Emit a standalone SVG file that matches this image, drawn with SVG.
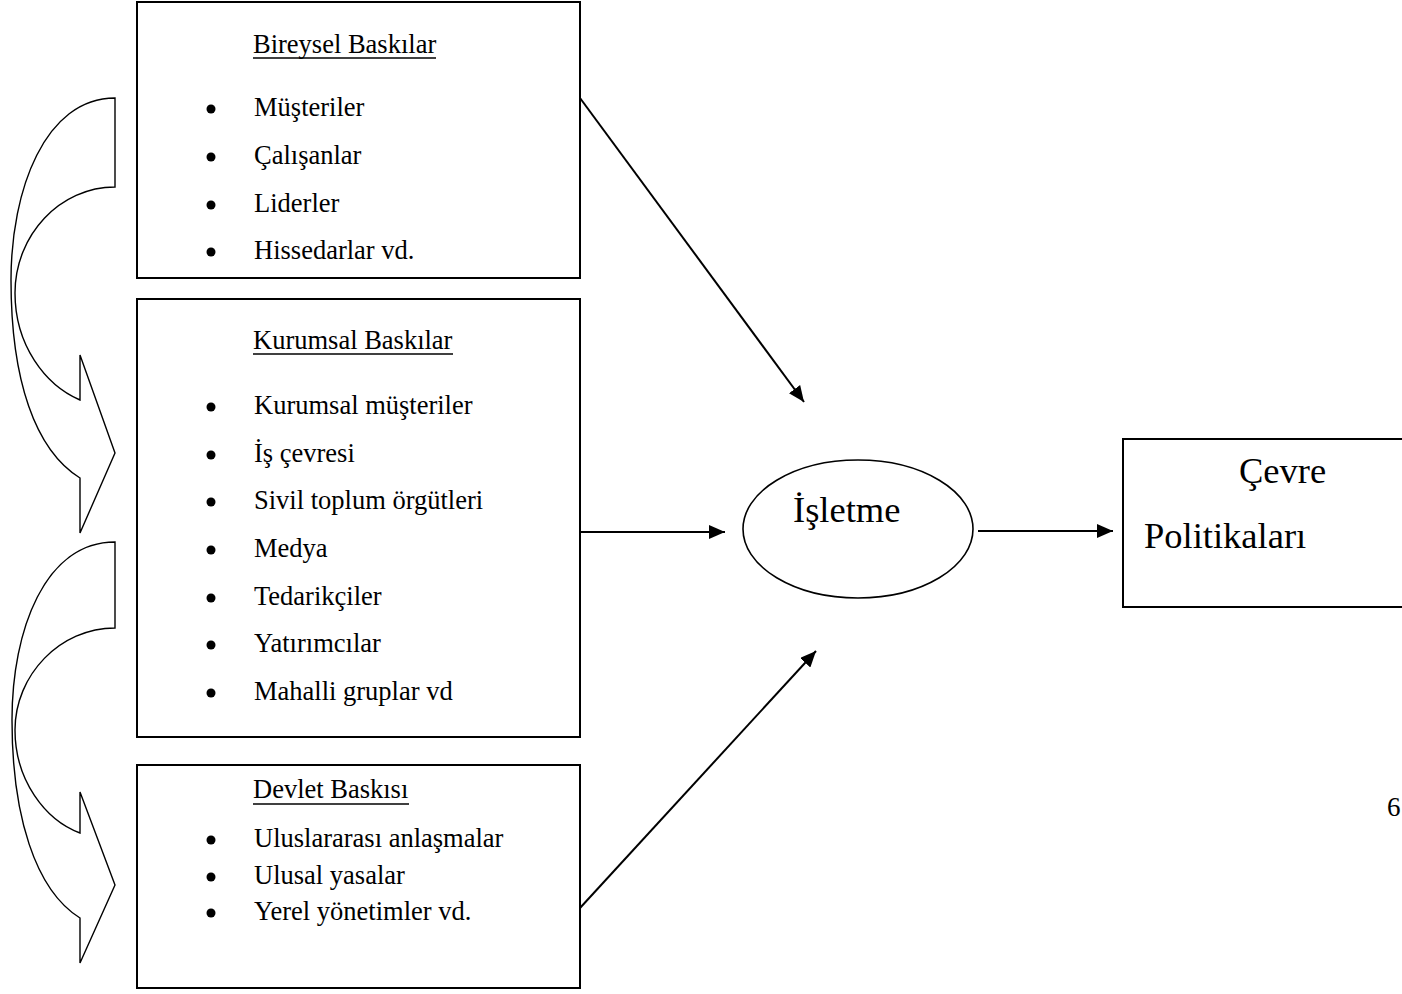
<svg xmlns="http://www.w3.org/2000/svg" width="1402" height="994" viewBox="0 0 1402 994">
<style>
.box{fill:#fff;stroke:#000;stroke-width:2}
.t{font-family:"Liberation Serif","Times New Roman",serif;font-size:26.5px;fill:#000}
.big{font-family:"Liberation Serif","Times New Roman",serif;font-size:36.5px;fill:#000}
.ul{stroke:#000;stroke-width:1.6}
.bul{fill:#000}
.con{stroke:#000;stroke-width:2;fill:none;marker-end:url(#ah)}
.curve{fill:none;stroke:#000;stroke-width:1.4;stroke-linejoin:miter}
</style>
<defs>
<marker id="ah" markerUnits="userSpaceOnUse" markerWidth="17" markerHeight="14" refX="16" refY="7" orient="auto">
<path d="M0,0 L16,7 L0,14 Z" fill="#000"/>
</marker>
</defs>
<rect width="1402" height="994" fill="#fff"/>

<g id="curve-arrow-1">
<path class="curve" d="M115,98 L115,187 C60,187 15,235 15,293 C15,345 45,385 80,400 L80,355 L115,453 L80,533 L80,478 C35,450 11,380 11,280 C11,190 45,98 115,98 Z"/>
</g>
<g id="curve-arrow-2">
<path class="curve" d="M115,542 L115,628 C60,628 15,675 15,730 C15,780 45,820 80,833 L80,792 L115,885 L80,963 L80,918 C35,890 12,815 12,720 C12,630 45,542 115,542 Z"/>
</g>

<g id="bireysel">
<rect class="box" x="137" y="2" width="443" height="276"/>
<text class="t" x="253" y="53">Bireysel Baskılar</text>
<line class="ul" x1="253" y1="58" x2="436" y2="58"/>
<circle class="bul" cx="211" cy="109" r="4.5"/>
<text class="t" x="254" y="116">Müşteriler</text>
<circle class="bul" cx="211" cy="157" r="4.5"/>
<text class="t" x="254" y="164">Çalışanlar</text>
<circle class="bul" cx="211" cy="205" r="4.5"/>
<text class="t" x="254" y="212">Liderler</text>
<circle class="bul" cx="211" cy="252" r="4.5"/>
<text class="t" x="254" y="259">Hissedarlar vd.</text>
</g>

<g id="kurumsal">
<rect class="box" x="137" y="299" width="443" height="438"/>
<text class="t" x="253" y="349">Kurumsal Baskılar</text>
<line class="ul" x1="253" y1="354" x2="453" y2="354"/>
<circle class="bul" cx="211" cy="407" r="4.5"/>
<text class="t" x="254" y="414">Kurumsal müşteriler</text>
<circle class="bul" cx="211" cy="455" r="4.5"/>
<text class="t" x="254" y="462">İş çevresi</text>
<circle class="bul" cx="211" cy="502" r="4.5"/>
<text class="t" x="254" y="509">Sivil toplum örgütleri</text>
<circle class="bul" cx="211" cy="550" r="4.5"/>
<text class="t" x="254" y="557">Medya</text>
<circle class="bul" cx="211" cy="598" r="4.5"/>
<text class="t" x="254" y="605">Tedarikçiler</text>
<circle class="bul" cx="211" cy="645" r="4.5"/>
<text class="t" x="254" y="652">Yatırımcılar</text>
<circle class="bul" cx="211" cy="693" r="4.5"/>
<text class="t" x="254" y="700">Mahalli gruplar vd</text>
</g>

<g id="devlet">
<rect class="box" x="137" y="765" width="443" height="223"/>
<text class="t" x="253" y="798">Devlet Baskısı</text>
<line class="ul" x1="253" y1="804" x2="409" y2="804"/>
<circle class="bul" cx="211" cy="840" r="4.5"/>
<text class="t" x="254" y="847">Uluslararası anlaşmalar</text>
<circle class="bul" cx="211" cy="877" r="4.5"/>
<text class="t" x="254" y="884">Ulusal yasalar</text>
<circle class="bul" cx="211" cy="913" r="4.5"/>
<text class="t" x="254" y="920">Yerel yönetimler vd.</text>
</g>

<g id="isletme">
<ellipse cx="858" cy="529" rx="115" ry="69" fill="#fff" stroke="#000" stroke-width="1.6"/>
<text class="big" x="793" y="522">İşletme</text>
</g>

<g id="cevre">
<rect class="box" x="1123" y="439" width="290" height="168"/>
<text class="big" x="1239" y="483">Çevre</text>
<text class="big" x="1144" y="548">Politikaları</text>
</g>

<g id="connectors">
<line class="con" x1="580" y1="98" x2="804" y2="402"/>
<line class="con" x1="580" y1="532" x2="725" y2="532"/>
<line class="con" x1="580" y1="908" x2="816" y2="651"/>
<line class="con" x1="978" y1="531" x2="1113" y2="531"/>
</g>

<text class="t" x="1387" y="816" style="font-size:27px">6</text>
</svg>
